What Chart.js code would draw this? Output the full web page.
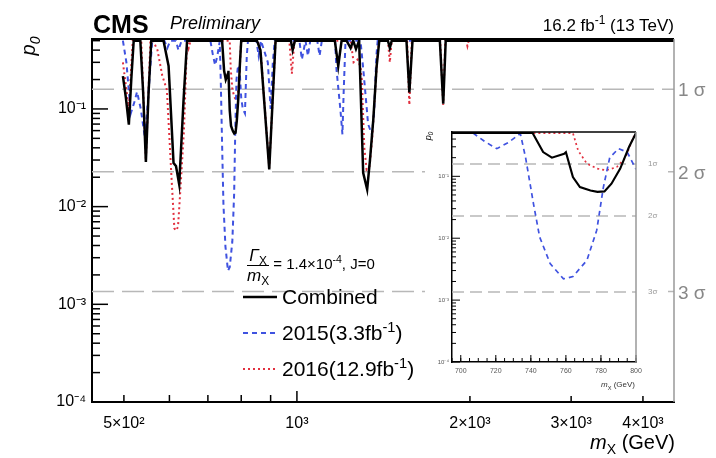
<!DOCTYPE html>
<html>
<head>
<meta charset="utf-8">
<title>p0 vs mX</title>
<script src="https://cdn.jsdelivr.net/npm/chart.js@4.4.1/dist/chart.umd.min.js"></script>
<style>
  body { margin: 0; background: #fff; }
  #wrap { position: relative; width: 716px; height: 458px; overflow: hidden;
          font-family: "Liberation Sans", Arial, Helvetica, sans-serif; color: #000; }
  .cv { position: absolute; }
  #insetChart { background: #fff; }
  .t { position: absolute; white-space: nowrap; line-height: 1; }
  .sig { color: #888; font-size: 19px; left: 678px; }
  .isig { color: #999; font-size: 8px; left: 648px; }
  sub, sup { line-height: 0; font-size: 70%; }
</style>
</head>
<body>
<div id="wrap">
  <canvas id="mainChart" class="cv" style="left:0;top:0" width="716" height="458"></canvas>
  <canvas id="mainTicks" class="cv" style="left:0;top:0" width="716" height="458"></canvas>
  <canvas id="insetChart" class="cv" style="left:425px;top:112px" width="243" height="284"></canvas>
  <canvas id="insetTicks" class="cv" style="left:425px;top:112px" width="243" height="284"></canvas>

  <svg style="position:absolute;left:0;top:0;pointer-events:none" width="716" height="458">
    <line x1="243" y1="297" x2="277" y2="297" stroke="#000" stroke-width="2.5"/>
    <line x1="243" y1="333" x2="277" y2="333" stroke="#3f52e0" stroke-width="2" stroke-dasharray="5 4"/>
    <line x1="243" y1="369" x2="277" y2="369" stroke="#e2303f" stroke-width="2" stroke-dasharray="2 3"/>
  </svg>

  <div class="t" style="left:93px;top:12px;font-size:25px;font-weight:bold;">CMS</div>
  <div class="t" style="left:170px;top:14px;font-size:18px;font-style:italic;">Preliminary</div>
  <div class="t" style="right:42px;top:17px;font-size:17px;">16.2 fb<sup>-1</sup> (13 TeV)</div>

  <div class="t" style="left:28px;top:46px;font-size:20px;font-style:italic;transform:translate(-50%,-50%) rotate(-90deg);">p<sub style="font-style:italic">0</sub></div>
  <div class="t" style="right:41px;top:432px;font-size:20px;"><i>m</i><sub>X</sub> (GeV)</div>

  <div class="t sig" style="top:80px;">1 σ</div>
  <div class="t sig" style="top:163px;">2 σ</div>
  <div class="t sig" style="top:283px;">3 σ</div>

  <div class="t" style="left:247px;top:247px;font-size:15px;">
    <span style="display:inline-block;vertical-align:middle;text-align:center;font-size:17px;">
      <span style="display:block;border-bottom:1px solid #000;padding-bottom:1px;"><i>Γ</i><sub>X</sub></span>
      <span style="display:block;padding-top:1px;"><i>m</i><sub>X</sub></span>
    </span> = 1.4×10<sup>-4</sup>, J=0
  </div>
  <div class="t" style="left:282px;top:286px;font-size:21px;">Combined</div>
  <div class="t" style="left:282px;top:322px;font-size:21px;">2015(3.3fb<sup>-1</sup>)</div>
  <div class="t" style="left:282px;top:358px;font-size:21px;">2016(12.9fb<sup>-1</sup>)</div>

  <div class="t" style="left:428px;top:136px;font-size:9px;font-style:italic;transform:translate(-50%,-50%) rotate(-90deg);">p<sub>0</sub></div>
  <div class="t" style="right:81px;top:381px;font-size:8px;color:#333;"><i>m</i><sub>X</sub> (GeV)</div>
  <div class="t isig" style="top:160px;">1σ</div>
  <div class="t isig" style="top:212px;">2σ</div>
  <div class="t isig" style="top:288px;">3σ</div>
</div>

<script>
// values: [mass (GeV), local p0]
const combined = [
  [498, 0.217], [504, 0.13], [510, 0.069], [515, 0.2], [520, 0.5], [534, 0.5], [540, 0.15],
  [546, 0.0286], [552, 0.15], [558, 0.5], [586, 0.5], [598, 0.275], [610, 0.028], [616, 0.026],
  [624, 0.0169], [630, 0.05], [635, 0.124], [644, 0.5], [741, 0.5], [747, 0.246], [752, 0.2],
  [759, 0.232], [760, 0.246], [764, 0.097], [768, 0.067], [774, 0.059], [778, 0.056], [782, 0.057],
  [786, 0.076], [791, 0.133], [796, 0.297], [800, 0.5], [852, 0.5], [864, 0.4], [895, 0.024],
  [918, 0.5], [976, 0.5], [983, 0.4], [992, 0.5], [1164, 0.5], [1180, 0.275], [1196, 0.5],
  [1220, 0.5], [1240, 0.42], [1253, 0.5], [1267, 0.41], [1283, 0.5], [1304, 0.0222], [1325, 0.015],
  [1340, 0.03], [1358, 0.078], [1376, 0.27], [1391, 0.5], [1440, 0.5], [1451, 0.42], [1462, 0.5],
  [1551, 0.5], [1569, 0.148], [1589, 0.5], [1773, 0.5], [1797, 0.113], [1815, 0.5], [4530, 0.5]
];
const run2015 = [
  [498, 0.5], [505, 0.3], [514, 0.09], [522, 0.12], [527, 0.15], [535, 0.1], [544, 0.05], [552, 0.15],
  [560, 0.5], [588, 0.5], [595, 0.42], [602, 0.5], [616, 0.5], [622, 0.4], [630, 0.5], [707, 0.5],
  [714, 0.36], [720.6, 0.28], [727, 0.35], [734, 0.49], [737, 0.2], [741.5, 0.036], [745, 0.0105],
  [751, 0.0039], [758.6, 0.0022], [764, 0.0024], [772, 0.0044], [777.6, 0.0135], [781.4, 0.067],
  [785, 0.2], [790, 0.28], [795, 0.246], [800, 0.13], [805, 0.1], [812, 0.09], [818, 0.35], [822, 0.5],
  [850, 0.5], [858, 0.35], [866, 0.5], [890, 0.3], [900, 0.1], [908, 0.3], [915, 0.5], [1010, 0.5],
  [1020, 0.32], [1035, 0.5], [1045, 0.35], [1055, 0.5], [1085, 0.5], [1095, 0.35], [1105, 0.5],
  [1165, 0.5], [1172, 0.25], [1190, 0.1], [1200, 0.055], [1206, 0.15], [1215, 0.5], [1290, 0.5],
  [1305, 0.25], [1330, 0.07], [1350, 0.055], [1362, 0.09], [1375, 0.35], [1382, 0.5], [4530, 0.5]
];
const run2016 = [
  [498, 0.3], [510, 0.1], [518, 0.5], [536, 0.5], [546, 0.03], [556, 0.5], [562, 0.5], [572, 0.4],
  [583, 0.22], [594, 0.156], [605, 0.02], [612, 0.006], [616, 0.0057], [621, 0.0062], [627, 0.015],
  [636, 0.06], [644, 0.5], [648, 0.42], [653, 0.5], [764, 0.5], [767, 0.26], [772, 0.16], [778, 0.133],
  [783, 0.125], [789, 0.141], [794, 0.2], [798.5, 0.43], [801, 0.5], [855, 0.5], [866, 0.35],
  [895, 0.025], [918, 0.5], [970, 0.5], [980, 0.23], [990, 0.5], [1240, 0.5], [1255, 0.3], [1275, 0.32],
  [1290, 0.27], [1297, 0.2], [1310, 0.04], [1322, 0.024], [1338, 0.026], [1352, 0.05], [1365, 0.12],
  [1378, 0.3], [1390, 0.5], [1440, 0.5], [1451, 0.3], [1462, 0.5], [1555, 0.5], [1569, 0.11], [1585, 0.5],
  [1775, 0.5], [1797, 0.11], [1812, 0.5], [1970, 0.5], [1980, 0.44], [1990, 0.5], [4530, 0.5]
];

const sigmaLevels = [0.1587, 0.02275, 0.00135];   // 1, 2, 3 sigma
const xTickValues = [500, 1000, 2000, 3000, 4000];
const xTickLabels = ['5×10²', '10³', '2×10³', '3×10³', '4×10³'];
const xMinorValues = [500, 600, 700, 800, 900, 2000, 3000, 4000];
const yTickValues = [1e-4, 1e-3, 1e-2, 1e-1];
const yTickLabels = ['10⁻⁴', '10⁻³', '10⁻²', '10⁻¹'];
const insetXTicks = [700, 720, 740, 760, 780, 800];

const X_MIN = 440, X_MAX = 4530, Y_MIN = 1e-4, Y_MAX = 0.52;
const IX_MIN = 695, IX_MAX = 800;

Chart.defaults.font.family = '"Liberation Sans", Arial, sans-serif';

const toXY = pts => pts.map(([x, y]) => ({ x, y }));

// minor ticks for log axes: 2..9 x each decade
function logMinor(lo, hi) {
  const out = [];
  for (let d = -4; d <= 0; d++) {
    for (let m = 2; m <= 9; m++) {
      const v = m * Math.pow(10, d);
      if (v >= lo && v <= hi) out.push(v);
    }
  }
  return out;
}
const yMinorValues = logMinor(Y_MIN, Y_MAX);
const insetMinorX = [];
for (let m = IX_MIN; m <= IX_MAX; m += 5) insetMinorX.push(m);

function curveSets(scale) {
  return [
    { data: toXY(combined), borderColor: '#000', borderWidth: 2.5 * scale },
    { data: toXY(run2015), borderColor: '#3f52e0', borderWidth: 2 * scale, borderDash: [5, 4] },
    { data: toXY(run2016), borderColor: '#e2303f', borderWidth: 2 * scale, borderDash: [2, 3] }
  ];
}

function sigmaSets(xmin, xmax, dash) {
  return sigmaLevels.map(s => ({
    data: [{ x: xmin, y: s }, { x: xmax, y: s }],
    borderColor: '#b8b8b8', borderWidth: 1.5, borderDash: dash
  }));
}

function baseOptions(pad) {
  return {
    responsive: false,
    animation: false,
    devicePixelRatio: 1,
    elements: { point: { radius: 0 }, line: { tension: 0, fill: false } },
    layout: { padding: pad },
    plugins: { legend: { display: false }, tooltip: { enabled: false } }
  };
}

// ROOT-like inward ticks and top/right frame, drawn on a transparent canvas
// laid over the chart, using the chart's own scales
function drawTicks(chart, canvasId, o) {
  const ctx = document.getElementById(canvasId).getContext('2d');
  const a = chart.chartArea;
  const xs = chart.scales.x, ys = chart.scales.y;
  const seg = (x1, y1, x2, y2) => { ctx.beginPath(); ctx.moveTo(x1, y1); ctx.lineTo(x2, y2); ctx.stroke(); };
  ctx.strokeStyle = '#000';
  ctx.lineWidth = o.tickWidth;
  o.xMajor.forEach(v => { const q = xs.getPixelForValue(v); seg(q, a.bottom, q, a.bottom - o.xMajorLen); });
  o.xMinor.forEach(v => { const q = xs.getPixelForValue(v); seg(q, a.bottom, q, a.bottom - o.xMinorLen); });
  o.yMajor.forEach(v => { const q = ys.getPixelForValue(v); seg(a.left, q, a.left + o.yMajorLen, q); });
  o.yMinor.forEach(v => { const q = ys.getPixelForValue(v); seg(a.left, q, a.left + o.yMinorLen, q); });
  ctx.lineWidth = o.topWidth;
  seg(a.left - 1, a.top, a.right, a.top);
  ctx.strokeStyle = '#999';
  ctx.lineWidth = 1.5;
  seg(a.right, a.top, a.right, a.bottom);
}

// main plot
const mainOpts = baseOptions({ left: 0, right: 42, top: 39, bottom: 0 });
mainOpts.scales = {
  x: {
    type: 'logarithmic', min: X_MIN, max: X_MAX,
    afterBuildTicks: s => { s.ticks = xTickValues.map(value => ({ value })); },
    afterFit: s => { s.height = 56; },
    grid: { display: false, drawTicks: false },
    border: { color: '#000', width: 2 },
    ticks: { autoSkip: false, maxRotation: 0, padding: 12, color: '#000', font: { size: 16 },
             callback: (v, i) => xTickLabels[i] }
  },
  y: {
    type: 'logarithmic', min: Y_MIN, max: Y_MAX,
    afterBuildTicks: s => { s.ticks = yTickValues.map(value => ({ value })); },
    afterFit: s => { s.width = 92; },
    grid: { display: false, drawTicks: false },
    border: { color: '#000', width: 2 },
    ticks: { autoSkip: false, padding: 6, color: '#000', font: { size: 16 },
             callback: (v, i) => yTickLabels[i] }
  }
};
const mainChart = new Chart(document.getElementById('mainChart'), {
  type: 'line',
  data: { datasets: [...curveSets(1), ...sigmaSets(X_MIN, X_MAX, [22, 8])] },
  options: mainOpts
});
drawTicks(mainChart, 'mainTicks', {
  tickWidth: 1.5, topWidth: 2, xMajor: [1000], xMinor: xMinorValues, xMajorLen: 11, xMinorLen: 7,
  yMajor: yTickValues, yMinor: yMinorValues, yMajorLen: 16, yMinorLen: 8
});

// inset: zoom on 700-800 GeV
const insetOpts = baseOptions({ left: 0, right: 32, top: 20, bottom: 0 });
insetOpts.scales = {
  x: {
    type: 'linear', min: IX_MIN, max: IX_MAX,
    afterBuildTicks: s => { s.ticks = insetXTicks.map(value => ({ value })); },
    afterFit: s => { s.height = 34; },
    grid: { display: false, drawTicks: false },
    border: { color: '#000', width: 1.5 },
    ticks: { autoSkip: false, maxRotation: 0, padding: 5, color: '#555', font: { size: 7 },
             callback: v => String(v) }
  },
  y: {
    type: 'logarithmic', min: Y_MIN, max: Y_MAX,
    afterBuildTicks: s => { s.ticks = yTickValues.map(value => ({ value })); },
    afterFit: s => { s.width = 27; },
    grid: { display: false, drawTicks: false },
    border: { color: '#000', width: 1.5 },
    ticks: { autoSkip: false, padding: 3, color: '#555', font: { size: 6 },
             callback: (v, i) => yTickLabels[i] }
  }
};
const insetChart = new Chart(document.getElementById('insetChart'), {
  type: 'line',
  data: { datasets: [...curveSets(0.85), ...sigmaSets(IX_MIN, IX_MAX, [12, 6])] },
  options: insetOpts
});
drawTicks(insetChart, 'insetTicks', {
  tickWidth: 1, topWidth: 1.5, xMajor: insetXTicks, xMinor: insetMinorX, xMajorLen: 7, xMinorLen: 4,
  yMajor: yTickValues, yMinor: yMinorValues, yMajorLen: 8, yMinorLen: 4
});
</script>
</body>
</html>
